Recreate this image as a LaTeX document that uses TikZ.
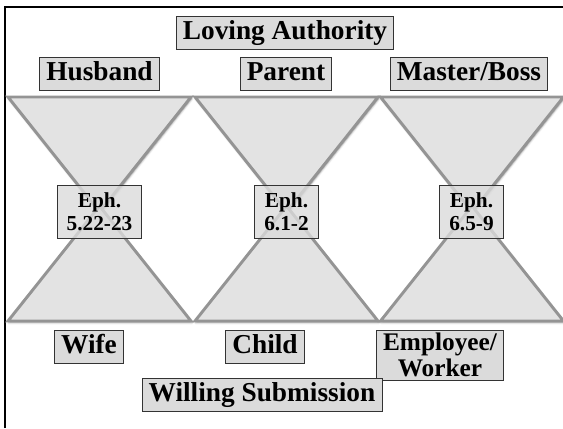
\documentclass[tikz,border=0pt]{standalone}
\usepackage{fontspec}
\setmainfont{Liberation Serif}
\usetikzlibrary{shadows.blur}
\tikzset{
	wedge/.style={fill=black!11, draw=black!42, line width=2.2pt,
		blur shadow={shadow xshift=0.6pt, shadow yshift=-1.2pt, shadow blur radius=1.5pt, shadow opacity=45}},
	boxbase/.style={draw=black!80, fill=black!14, line width=0.7pt, inner xsep=5pt},
	tagbox/.style={boxbase, inner ysep=3pt, text height=14pt, text depth=4.5pt,
		font=\bfseries\fontsize{20.5}{22}\selectfont},
	twoline/.style={boxbase, align=center, inner ysep=2pt, font=\bfseries\fontsize{19}{20}\selectfont},
	refbox/.style={boxbase, align=center, fill opacity=0.8, text opacity=1, inner xsep=7pt, inner ysep=6pt,
		font=\bfseries\fontsize{16}{17}\selectfont}
}

\begin{document}
\begin{tikzpicture}[x=0.75pt, y=-0.75pt]
	\useasboundingbox (0,0) rectangle (563,428);
	\draw[line width=1.6pt] (5,428) -- (5,7) -- (563,7);
	% hourglass wedges
	\foreach \cx in {99.5,286.5,472} {
		\draw[wedge] (\cx-91.5,97) -- (\cx+91.5,97) -- (\cx,212) -- cycle;
		\draw[wedge] (\cx-91.5,321) -- (\cx+91.5,321) -- (\cx,206) -- cycle;
	}
	\node[tagbox] (authority) at (285,33) {Loving Authority};
	\node[tagbox] (husband) at (99.5,74) {Husband};
	\node[tagbox] (parent) at (286,74) {Parent};
	\node[tagbox] (boss) at (469,74) {Master/Boss};
	\node[refbox] (ephA) at (99.5,212) {Eph.\\5.22-23};
	\node[refbox] (ephB) at (286.5,212) {Eph.\\6.1-2};
	\node[refbox] (ephC) at (471.5,212) {Eph.\\6.5-9};
	\node[tagbox] (wife) at (89,347) {Wife};
	\node[tagbox] (child) at (265,347) {Child};
	\node[twoline] (worker) at (440,355) {Employee/\\Worker};
	\node[tagbox] (submission) at (262,395) {Willing Submission};
\end{tikzpicture}
\end{document}
